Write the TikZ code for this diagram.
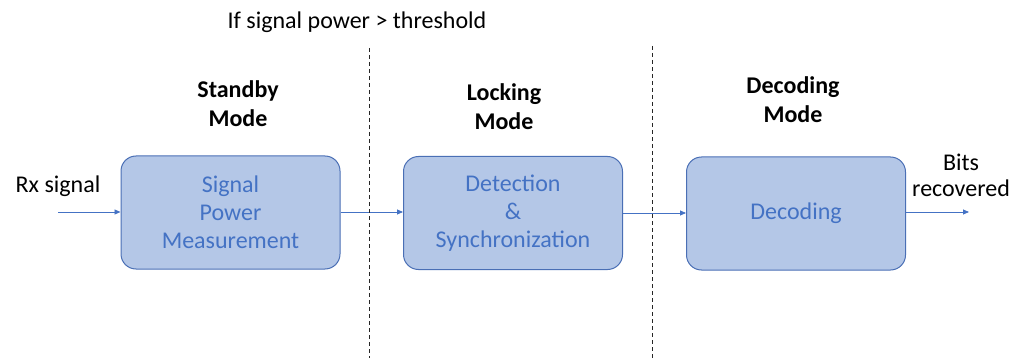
\documentclass[tikz,border=0pt]{standalone}
\usepackage{fontspec}
\setmainfont{Carlito}
\usetikzlibrary{arrows.meta}
\definecolor{boxfill}{HTML}{B4C7E7}
\definecolor{boxline}{HTML}{4A6FB5}
\definecolor{blu}{HTML}{4472C4}
\begin{document}
\begin{tikzpicture}[x=1pt,y=-1pt,
  block/.style={draw=boxline, fill=boxfill, line width=1pt, rounded corners=15pt, minimum width=219pt, minimum height=113pt, text=blu, align=center, font=\fontsize{24}{28}\selectfont, inner sep=0pt},
  conn/.style={draw=blu, line width=0.8pt, -{Triangle[length=6pt,width=5pt]}},
  lbl/.style={align=center, font=\fontsize{24}{26}\selectfont, inner sep=0pt},
  mode/.style={align=center, font=\fontsize{24}{29}\selectfont\bfseries, inner sep=0pt},
  sep/.style={draw=black!85, line width=0.9pt, dashed, dash pattern=on 4pt off 3pt}]
\useasboundingbox (0,0) rectangle (1024,358);
\node[block] (b1) at (230.5,212.5) {Signal\\Power\\Measurement};
\node[block] (b2) at (513,213) {Detection\\\&\\Synchronization};
\node[block] (b3) at (796,213.5) {Decoding};
\coordinate (in) at (58,212);
\coordinate (out) at (969,212);
\draw[conn] (in) -- (b1.west |- in);
\draw[conn] (b1.east |- 0,212) -- (b2.west |- 0,212);
\draw[conn] (b2.east |- 0,213) -- (b3.west |- 0,213);
\draw[conn] (b3.east |- out) -- (out);
\coordinate (d1t) at (369,48); \coordinate (d1b) at (369,358);
\coordinate (d2t) at (652,46); \coordinate (d2b) at (652,358);
\draw[sep] (d1t) -- (d1b);
\draw[sep] (d2t) -- (d2b);
\node[lbl] (cond) at (357,22) {If signal power > threshold};
\node[mode] (m1) at (238,104) {Standby\\Mode};
\node[mode] (m2) at (504,107) {Locking\\Mode};
\node[mode] (m3) at (793,100) {Decoding\\Mode};
\node[lbl] (rx) at (58,186) {Rx signal};
\node[lbl] (bits) at (961,175) {Bits\\recovered};
\end{tikzpicture}
\end{document}
